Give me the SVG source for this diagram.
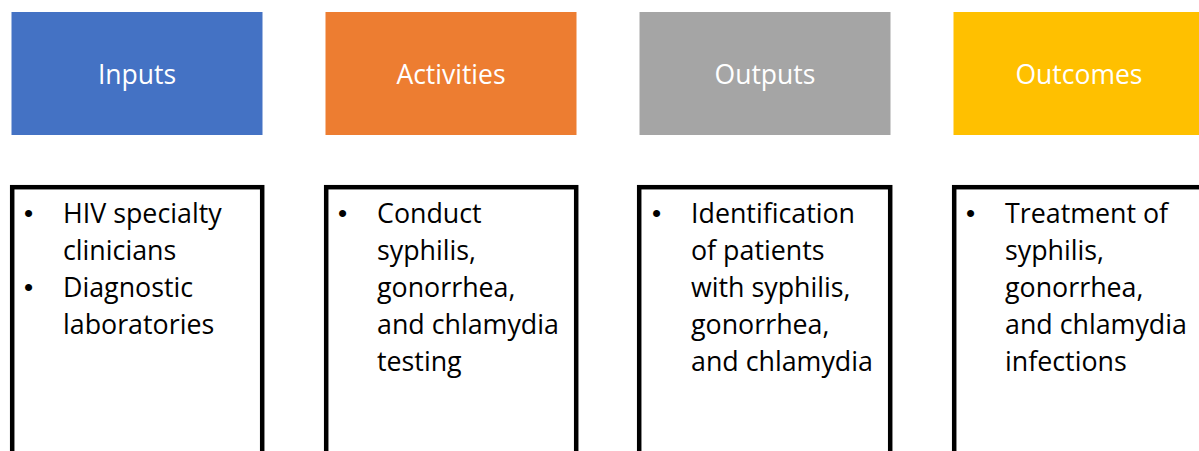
<svg xmlns="http://www.w3.org/2000/svg" width="1199" height="451" viewBox="0 0 1199 451">
<style>
.hdr{stroke:none}
.hdr-t{font-family:"Open Sans","Liberation Sans",sans-serif;font-size:26.5px;fill:#ffffff;text-anchor:middle}
.box{fill:#ffffff;stroke:#000000;stroke-width:4.5}
.txt{font-family:"Open Sans","Liberation Sans",sans-serif;font-size:26.8px;fill:#000000}
.bul{font-family:"Liberation Sans",sans-serif;font-size:26px;fill:#000000}
</style>
<rect width="1199" height="451" fill="#ffffff"/>
<g id="inputs">
<rect class="hdr" x="11.5" y="12" width="251" height="123" fill="#4472C4"/>
<text class="hdr-t" x="137" y="84">Inputs</text>
</g>
<g id="activities">
<rect class="hdr" x="325.5" y="12" width="251" height="123" fill="#ED7D31"/>
<text class="hdr-t" x="451" y="84">Activities</text>
</g>
<g id="outputs">
<rect class="hdr" x="639.5" y="12" width="251" height="123" fill="#A5A5A5"/>
<text class="hdr-t" x="765" y="84">Outputs</text>
</g>
<g id="outcomes">
<rect class="hdr" x="953.5" y="12" width="251" height="123" fill="#FFC000"/>
<text class="hdr-t" x="1079" y="84">Outcomes</text>
</g>
<g id="inputs-list">
<rect class="box" x="12.2" y="187.2" width="250" height="280"/>
<text class="bul" x="24" y="222">•</text>
<text class="txt" x="63" y="223">HIV specialty</text>
<text class="txt" x="63" y="260">clinicians</text>
<text class="bul" x="24" y="296">•</text>
<text class="txt" x="63" y="297">Diagnostic</text>
<text class="txt" x="63" y="334">laboratories</text>
</g>
<g id="activities-list">
<rect class="box" x="326.2" y="187.2" width="250" height="280"/>
<text class="bul" x="338" y="222">•</text>
<text class="txt" x="377" y="223">Conduct</text>
<text class="txt" x="377" y="260">syphilis,</text>
<text class="txt" x="377" y="297">gonorrhea,</text>
<text class="txt" x="377" y="334">and chlamydia</text>
<text class="txt" x="377" y="371">testing</text>
</g>
<g id="outputs-list">
<rect class="box" x="639.2" y="187.2" width="251" height="280"/>
<text class="bul" x="652" y="222">•</text>
<text class="txt" x="691" y="223">Identification</text>
<text class="txt" x="691" y="260">of patients</text>
<text class="txt" x="691" y="297">with syphilis,</text>
<text class="txt" x="691" y="334">gonorrhea,</text>
<text class="txt" x="691" y="371">and chlamydia</text>
</g>
<g id="outcomes-list">
<rect class="box" x="954.2" y="187.2" width="260" height="280"/>
<text class="bul" x="966" y="222">•</text>
<text class="txt" x="1005" y="223">Treatment of</text>
<text class="txt" x="1005" y="260">syphilis,</text>
<text class="txt" x="1005" y="297">gonorrhea,</text>
<text class="txt" x="1005" y="334">and chlamydia</text>
<text class="txt" x="1005" y="371">infections</text>
</g>
<g id="connectors"></g>
</svg>
